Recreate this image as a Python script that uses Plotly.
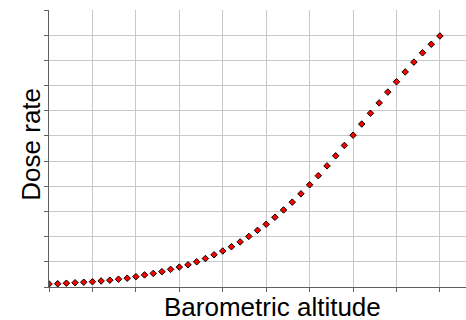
import plotly.graph_objects as go

altitude = [0.0, 0.2, 0.4, 0.6, 0.8, 1.0, 1.2, 1.4, 1.6, 1.8,
            2.0, 2.2, 2.4, 2.6, 2.8, 3.0, 3.2, 3.4, 3.6, 3.8,
            4.0, 4.2, 4.4, 4.6, 4.8, 5.0, 5.2, 5.4, 5.6, 5.8,
            6.0, 6.2, 6.4, 6.6, 6.8, 7.0, 7.2, 7.4, 7.6, 7.8,
            8.0, 8.2, 8.4, 8.6, 8.8, 9.0]
dose_rate = [0.12, 0.13, 0.15, 0.17, 0.19, 0.21, 0.24, 0.27, 0.31, 0.35,
             0.41, 0.48, 0.54, 0.61, 0.70, 0.79, 0.88, 1.00, 1.13, 1.28,
             1.43, 1.60, 1.79, 2.01, 2.25, 2.49, 2.77, 3.06, 3.37, 3.70,
             4.06, 4.42, 4.81, 5.21, 5.62, 6.03, 6.47, 6.90, 7.31, 7.74,
             8.15, 8.54, 8.93, 9.30, 9.64, 9.97]

x_title = "Barometric altitude"
y_title = "Dose rate"

fig = go.Figure(go.Scatter(
    x=altitude, y=dose_rate, mode="markers",
    marker=dict(symbol="diamond", size=5, color="#ff0000",
                line=dict(color="#000000", width=1)),
    showlegend=False, hoverinfo="skip",
))

axis_common = dict(
    showgrid=True, gridcolor="#c8c8c8", gridwidth=1,
    showline=True, linecolor="#606060", linewidth=1,
    ticks="outside", ticklen=4, tickcolor="#606060", tickwidth=1,
    showticklabels=False, zeroline=False, dtick=1, tick0=0,
)

fig.update_layout(
    width=466, height=320,
    margin=dict(l=49, r=0, t=10, b=33),
    paper_bgcolor="white", plot_bgcolor="white",
    font=dict(family="Liberation Sans, Arial, sans-serif", color="#000000"),
    xaxis=dict(range=[0, 9.6], **axis_common),
    yaxis=dict(range=[0, 11], **axis_common),
    annotations=[
        dict(text=x_title, xref="paper", yref="paper", x=0.536, y=-0.072,
             xanchor="center", yanchor="middle", showarrow=False,
             font=dict(size=26)),
        dict(text=y_title, xref="paper", yref="paper", x=-0.043, y=0.514,
             xanchor="center", yanchor="middle", showarrow=False,
             textangle=-90, font=dict(size=26)),
    ],
)

fig.write_html("out.html")
